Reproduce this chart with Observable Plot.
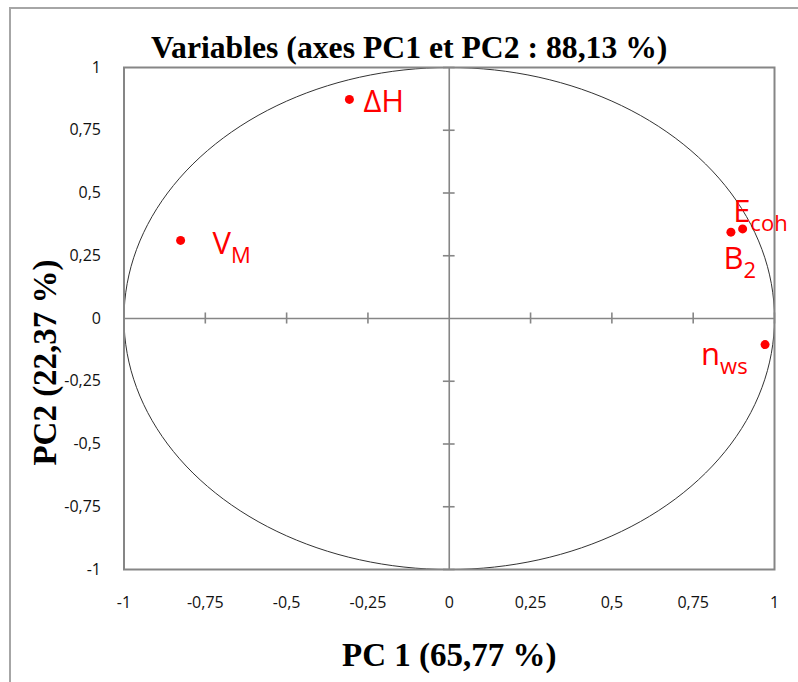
<!DOCTYPE html>
<html>
<head>
<meta charset="utf-8">
<script src="https://cdn.jsdelivr.net/npm/d3@7"></script>
<script src="https://cdn.jsdelivr.net/npm/@observablehq/plot@0.6"></script>
<style>
  body { margin: 0; background: #fff; }
  #wrap { position: relative; width: 798px; height: 682px; overflow: hidden; }
  #border { position: absolute; left: 9px; top: 7px; width: 900px; height: 900px;
            border: 2px solid #a6a6a6; box-sizing: border-box; pointer-events: none; }
</style>
</head>
<body>
<div id="wrap"><div id="border"></div></div>
<script>
// ---- data ----
const variables = ["ΔH", "V", "E", "B", "n"];
const subscripts = ["", "M", "coh", "2", "ws"];
const pc1 = [-0.307, -0.826, 0.902, 0.866, 0.971];
const pc2 = [0.873, 0.311, 0.357, 0.344, -0.104];
const tickValues = [-1, -0.75, -0.5, -0.25, 0, 0.25, 0.5, 0.75, 1];
const titleText = "Variables (axes PC1 et PC2 : 88,13 %)";
const xLabel = "PC 1 (65,77 %)";
const yLabel = "PC2 (22,37 %)";

// label placement (pixel offsets, style only)
const labelDx = [14, 32, -9.5, -7.5, -64];
const labelDy = [13, 13.5, -6.5, 36.5, 20.5];

const points = variables.map((v, i) => ({name: v, sub: subscripts[i], x: pc1[i], y: pc2[i]}));
const circle = d3.range(0, 361, 2).map(a => ({x: Math.cos(a * Math.PI / 180), y: Math.sin(a * Math.PI / 180)}));
const innerTicks = tickValues.filter(t => t !== 0);
const fmt = d => String(d).replace(".", ",");
const gray = "#868686";

const labelMarks = points.map((p, i) =>
  Plot.text([p], {x: "x", y: "y", text: "name", dx: labelDx[i], dy: labelDy[i], textAnchor: "start",
                  lineAnchor: "bottom", fill: "#ff0000", fontSize: 31, fontFamily: "Open Sans", className: "ptlabel"})
);

const plot = Plot.plot({
  width: 798,
  height: 682,
  marginLeft: 123.5,
  marginRight: 24,
  marginTop: 67,
  marginBottom: 113,
  style: {background: "transparent", overflow: "visible"},
  x: {domain: [-1, 1], ticks: tickValues, tickFormat: fmt},
  y: {domain: [-1, 1], ticks: tickValues, tickFormat: fmt},
  marks: [
    Plot.ruleX([0], {stroke: gray, strokeWidth: 1.6}),
    Plot.ruleY([0], {stroke: gray, strokeWidth: 1.6}),
    Plot.ruleX(innerTicks, {x: d => d, y1: -0.022, y2: 0.022, stroke: gray, strokeWidth: 1.6}),
    Plot.ruleY(innerTicks, {y: d => d, x1: -0.018, x2: 0.018, stroke: gray, strokeWidth: 1.6}),
    Plot.line(circle, {x: "x", y: "y", stroke: "#333", strokeWidth: 1}),
    Plot.frame({stroke: gray, strokeWidth: 2}),
    Plot.axisX({ticks: tickValues, tickFormat: fmt, tickSize: 0, tickPadding: 27, fontSize: 16, label: null,
                fontFamily: "Open Sans", fill: "#111"}),
    Plot.axisY({ticks: tickValues, tickFormat: fmt, tickSize: 0, tickPadding: 23, fontSize: 16, label: null,
                fontFamily: "Open Sans", fill: "#111"}),
    Plot.dot(points, {x: "x", y: "y", r: 4.5, fill: "#ff0000", stroke: "none"}),
    ...labelMarks,
    Plot.text([titleText], {frameAnchor: "top", textAnchor: "middle", dx: -40, dy: -10, lineAnchor: "bottom", fontSize: 31.7,
                            fontWeight: "bold", fontFamily: "Liberation Serif", fill: "#000"}),
    Plot.text([xLabel], {frameAnchor: "bottom", textAnchor: "middle", dx: 0, dy: 96, lineAnchor: "bottom", fontSize: 33,
                         fontWeight: "bold", fontFamily: "Liberation Serif", fill: "#000"}),
    Plot.text([yLabel], {frameAnchor: "left", textAnchor: "middle", dx: -68.5, dy: 44, rotate: -90, lineAnchor: "bottom", fontSize: 33,
                         fontWeight: "bold", fontFamily: "Liberation Serif", fill: "#000"})
  ]
});

// add subscripts as tspans
d3.select(plot).selectAll("g.ptlabel text").each(function(_, i) {
  const s = points[i].sub;
  if (s) d3.select(this).append("tspan").attr("font-size", 22).attr("dy", 9).text(s);
});

document.getElementById("wrap").prepend(plot);
</script>
</body>
</html>
